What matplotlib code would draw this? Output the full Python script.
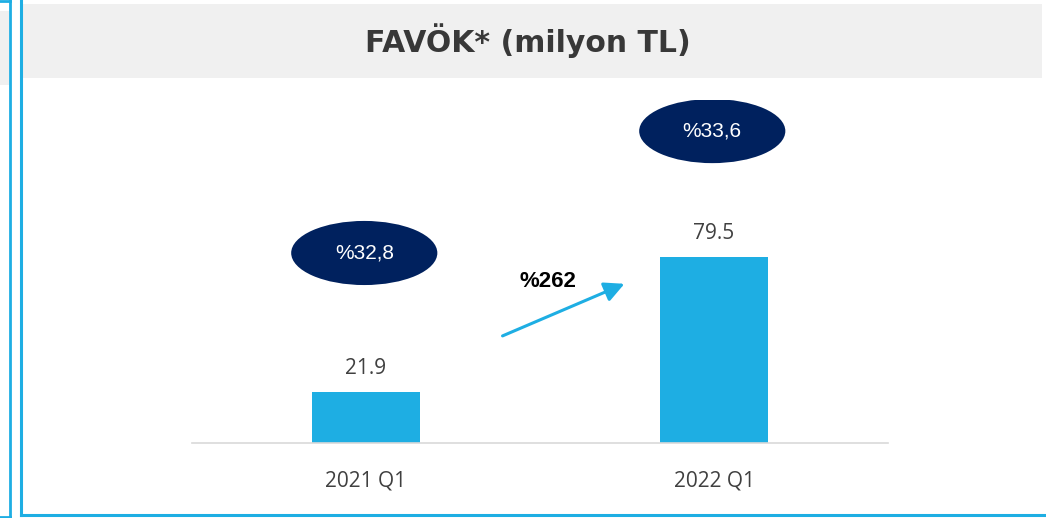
import matplotlib.pyplot as plt
from matplotlib.patches import Ellipse, Rectangle
from matplotlib.lines import Line2D

categories = ["2021 Q1", "2022 Q1"]
favok = [21.9, 79.5]
value_labels = ["21.9", "79.5"]
margins = ["%32,8", "%33,6"]
margin_y = [81.2, 133.3]
growth = "%262"

blue = "#1eaee3"
navy = "#00215e"

fig = plt.figure(figsize=(10.46, 5.18), dpi=100)
W, H = 1046, 518

# frame lines and header band, in pixel coords
bg = fig.add_axes([0, 0, 1, 1])
bg.set_xlim(0, W)
bg.set_ylim(H, 0)
bg.axis("off")
bg.add_patch(Rectangle((22, 4), 1020, 74, color="#f0f0f0", lw=0))
bg.add_patch(Rectangle((0, 11), 9, 74, color="#f0f0f0", lw=0))
bg.add_line(Line2D([9.5, 9.5], [0, 517], color=blue, lw=2))
bg.add_line(Line2D([0, 9.5], [1, 1], color=blue, lw=2))
bg.add_line(Line2D([0, 9.5], [516.5, 516.5], color=blue, lw=2))
bg.add_line(Line2D([21, 21], [0, 514.5], color=blue, lw=2.2))
bg.add_line(Line2D([21, W], [514.5, 514.5], color=blue, lw=2.2))
bg.text(528, 41, "FAVÖK* (milyon TL)", ha="center", va="center",
        fontsize=21.5, fontweight="bold", color="#383838", family="DejaVu Sans")

# chart axes: x 192..888 px, baseline at 443 px
ax = fig.add_axes([192 / W, (H - 443) / H, 696 / W, 343 / H])
x = range(len(categories))
ax.bar(x, favok, width=0.313, color=blue)
ax.set_xlim(-0.5, 1.5)
ax.set_ylim(0, 343 / 2.34)
ax.patch.set_alpha(0)
for s in ["top", "right", "left"]:
    ax.spines[s].set_visible(False)
ax.spines["bottom"].set_color("#d9d9d9")
ax.spines["bottom"].set_linewidth(1.2)
ax.set_yticks([])
ax.set_xticks(list(x))
ax.set_xticklabels(categories, fontsize=15, color="#404040", family="Open Sans")
ax.tick_params(axis="x", length=0, pad=20)

for i, v in enumerate(favok):
    ax.annotate(value_labels[i], (i, v), xytext=(0, 17), textcoords="offset points",
                ha="center", va="center", fontsize=15, color="#404040", family="Open Sans")
    ax.add_patch(Ellipse((i - 0.005, margin_y[i]), 0.42, 27.4, color=navy, lw=0))
    ax.text(i - 0.005, margin_y[i], margins[i], ha="center", va="center",
            fontsize=15, color="white", family="Liberation Sans")

ax.annotate("", xy=(0.75, 68.5), xytext=(0.385, 45.3),
            arrowprops=dict(arrowstyle="-|>,head_length=0.6,head_width=0.3",
                            color=blue, lw=2.2, mutation_scale=20))
ax.text(0.523, 69.0, growth, ha="center", va="center", fontsize=16,
        fontweight="bold", color="black", family="Liberation Sans")

fig.savefig("out.png", dpi=100)
